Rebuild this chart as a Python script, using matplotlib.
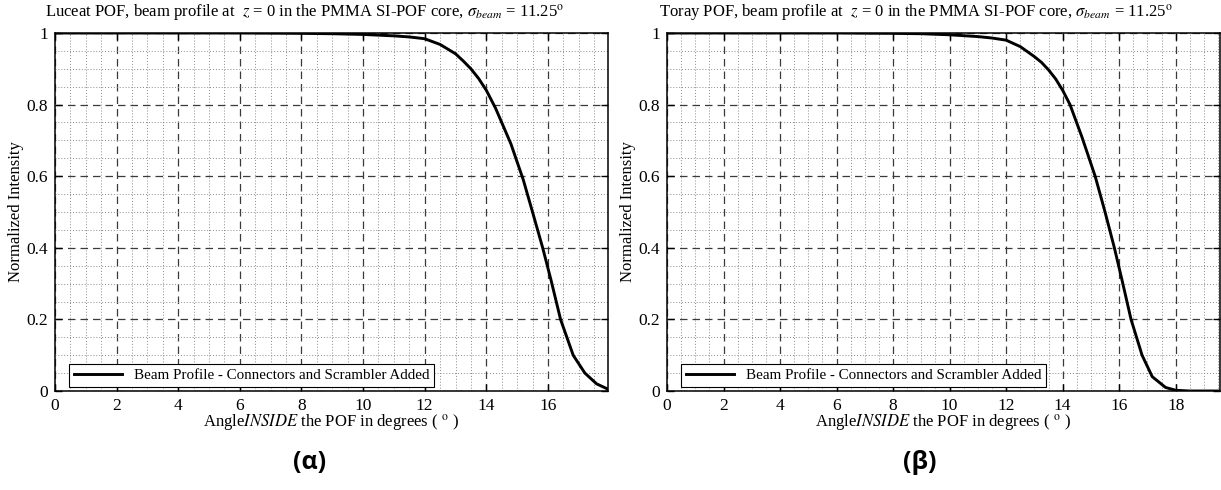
import matplotlib
matplotlib.use("Agg")
import matplotlib.pyplot as plt
from matplotlib.ticker import MultipleLocator

plt.rcParams["font.family"] = ["Liberation Serif", "DejaVu Serif"]
plt.rcParams["mathtext.fontset"] = "stix"

# Beam profiles (normalized intensity vs. angle inside the fibre, degrees)
angle_luceat = [0, 2, 4, 6, 8, 9, 10, 11, 11.5, 12, 12.5, 13, 13.25, 13.5, 13.75,
                14, 14.3, 14.8, 15.2, 15.5, 15.83, 16.1, 16.41, 16.82, 17.2,
                17.58, 17.95]
intensity_luceat = [1.0, 1.0, 1.0, 1.0, 0.999, 0.998, 0.996, 0.992, 0.989, 0.984,
                    0.968, 0.942, 0.922, 0.9, 0.873, 0.84, 0.79, 0.69, 0.59, 0.5,
                    0.4, 0.31, 0.2, 0.1, 0.05, 0.02, 0.005]

angle_toray = [0, 2, 4, 6, 8, 9, 10, 11, 11.5, 12, 12.5, 13, 13.25, 13.5, 13.75,
               14, 14.26, 14.68, 15.15, 15.5, 15.83, 16.1, 16.42, 16.81, 17.17,
               17.64, 18.0, 18.5, 19.0, 19.55]
intensity_toray = [1.0, 1.0, 1.0, 1.0, 0.999, 0.998, 0.995, 0.99, 0.986, 0.98,
                   0.962, 0.934, 0.918, 0.897, 0.872, 0.84, 0.8, 0.71, 0.6, 0.5,
                   0.4, 0.31, 0.2, 0.1, 0.04, 0.01, 0.002, 0.0, 0.0, 0.0]

titles = [
    r"Luceat POF, beam profile at  $z$ = 0 in the PMMA SI-POF core, $\sigma_{beam}$ = 11.25$^{\mathrm{o}}$",
    r"Toray POF, beam profile at  $z$ = 0 in the PMMA SI-POF core, $\sigma_{beam}$ = 11.25$^{\mathrm{o}}$",
]
panel_tags = ["(α)", "(β)"]
x_limits = [17.95, 19.55]
x_ticks = [[0, 2, 4, 6, 8, 10, 12, 14, 16], [0, 2, 4, 6, 8, 10, 12, 14, 16, 18]]
legend_label = "Beam Profile - Connectors and Scrambler Added"
x_label = r"Angle$\it{INSIDE}$ the POF in degrees ( $^{\mathrm{o}}$ )"
y_label = "Normalized Intensity"

fig = plt.figure(figsize=(12.21, 4.90), dpi=100)
W, H = 1221, 490
ax_rects = [
    [55 / W, 99 / H, 553 / W, 358 / H],
    [667 / W, 99 / H, 552.5 / W, 358 / H],
]
title_x = [305, 916]
tag_x = [310, 920]
series = [(angle_luceat, intensity_luceat), (angle_toray, intensity_toray)]

for i in range(2):
    ax = fig.add_axes(ax_rects[i])
    xs, ys = series[i]
    ax.plot(xs, ys, color="black", lw=2.1, label=legend_label, zorder=3)
    ax.set_xlim(0, x_limits[i])
    ax.set_ylim(0, 1)
    ax.set_xticks(x_ticks[i])
    ax.xaxis.set_minor_locator(MultipleLocator(0.5))
    ax.yaxis.set_minor_locator(MultipleLocator(0.05))
    ax.set_yticks([0, 0.2, 0.4, 0.6, 0.8, 1])
    ax.set_yticklabels(["0", "0.2", "0.4", "0.6", "0.8", "1"])
    ax.grid(which="major", color="#3a3a3a", linestyle=(0, (6, 4)), lw=0.9)
    ax.grid(which="minor", color="#8a8a8a", linestyle=(0, (1, 2)), lw=0.7)
    ax.set_axisbelow(True)
    ax.tick_params(which="major", direction="in", length=5, width=1.0,
                   top=True, right=True, labelsize=12.5, pad=5)
    ax.tick_params(which="minor", length=0)
    for sp in ax.spines.values():
        sp.set_linewidth(1.1)
    ax.set_xlabel(x_label, fontsize=12, labelpad=-1)
    ax.set_ylabel(y_label, fontsize=12, labelpad=2)
    leg = ax.legend(loc="lower left", bbox_to_anchor=(0.018, 0.0), fontsize=10.8,
                    fancybox=False, framealpha=1, edgecolor="black",
                    handlelength=3.2, borderpad=0.3, borderaxespad=0.3)
    leg.get_frame().set_linewidth(0.8)
    fig.text(title_x[i] / W, 1 - 13 / H, titles[i], ha="center", va="center",
             fontsize=12)
    fig.text(tag_x[i] / W, 28 / H, panel_tags[i], ha="center", va="center",
             fontsize=18, fontweight="bold", family=["Open Sans", "DejaVu Sans"])

fig.savefig("out.png", dpi=100)
